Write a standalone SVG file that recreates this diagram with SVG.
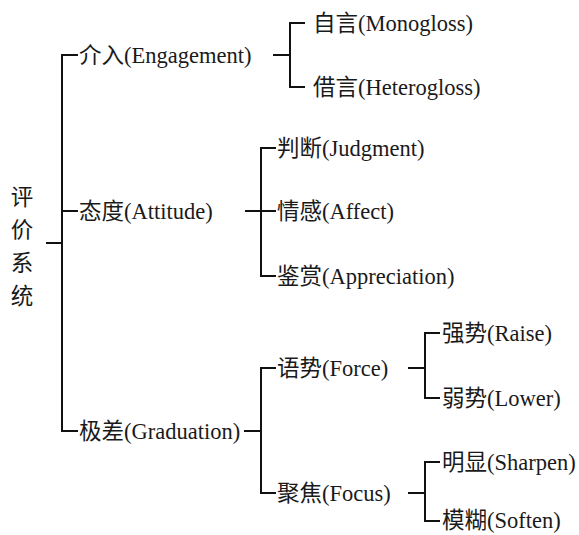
<svg xmlns="http://www.w3.org/2000/svg" width="579" height="535" viewBox="0 0 579 535">
<style>
text{font-family:"Liberation Serif","Times New Roman","Noto Sans CJK SC",serif;font-size:22.5px;fill:#1a1a1a}
.z{font-family:"Noto Sans CJK SC","Noto Sans CJK TC",sans-serif}
.c path{fill:none;stroke:#111;stroke-width:2}
</style>
<rect width="579" height="535" fill="#fff"/>
<g class="c" id="connectors">
<path d="M46 243H62"/>
<path d="M78 55H62V431H78M62 211H78"/>
<path d="M273 55H290M305 23H290V87H305"/>
<path d="M245 211H276M276 148H261V276H276"/>
<path d="M244 431H261M276 368H261V493H276"/>
<path d="M408 368H425M440 333H425V398H440"/>
<path d="M408 493H425M440 462H425V521H440"/>
</g>
<g id="root"><text class="z" x="22" y="205" text-anchor="middle">评</text><text class="z" x="22" y="238" text-anchor="middle">价</text><text class="z" x="22" y="271" text-anchor="middle">系</text><text class="z" x="22" y="304" text-anchor="middle">统</text></g>
<g id="engagement"><text x="79" y="63"><tspan class="z">介入</tspan>(Engagement)</text></g>
<g id="attitude"><text x="79" y="219"><tspan class="z">态度</tspan>(Attitude)</text></g>
<g id="graduation"><text x="79" y="439"><tspan class="z">极差</tspan>(Graduation)</text></g>
<g id="monogloss"><text x="313" y="31"><tspan class="z">自言</tspan>(Monogloss)</text></g>
<g id="heterogloss"><text x="313" y="95"><tspan class="z">借言</tspan>(Heterogloss)</text></g>
<g id="judgment"><text x="277" y="156"><tspan class="z">判断</tspan>(Judgment)</text></g>
<g id="affect"><text x="277" y="219"><tspan class="z">情感</tspan>(Affect)</text></g>
<g id="appreciation"><text x="277" y="284"><tspan class="z">鉴赏</tspan>(Appreciation)</text></g>
<g id="force"><text x="277" y="376"><tspan class="z">语势</tspan>(Force)</text></g>
<g id="focus"><text x="277" y="501"><tspan class="z">聚焦</tspan>(Focus)</text></g>
<g id="raise"><text x="442" y="341"><tspan class="z">强势</tspan>(Raise)</text></g>
<g id="lower"><text x="442" y="406"><tspan class="z">弱势</tspan>(Lower)</text></g>
<g id="sharpen"><text x="442" y="470"><tspan class="z">明显</tspan>(Sharpen)</text></g>
<g id="soften"><text x="442" y="528"><tspan class="z">模糊</tspan>(Soften)</text></g>
</svg>
